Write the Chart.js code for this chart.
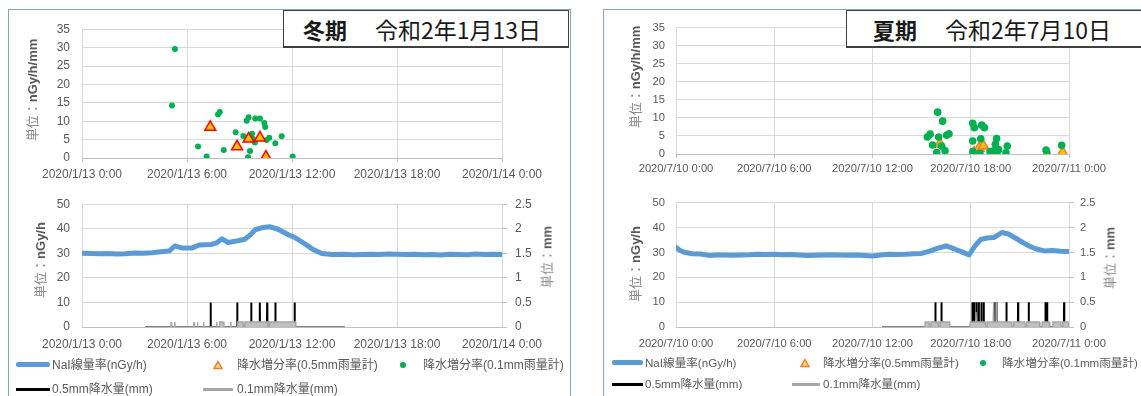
<!DOCTYPE html>
<html><head><meta charset="utf-8">
<script src="https://cdn.jsdelivr.net/npm/chart.js@4.4.1/dist/chart.umd.min.js"></script>
<style>
html,body{margin:0;padding:0;background:#fff;}
body{width:1141px;height:396px;position:relative;overflow:hidden;font-family:"Liberation Sans","Noto Sans CJK JP",sans-serif;}
.panel{position:absolute;border:1px solid #8AA3C7;box-sizing:border-box;}
canvas{position:absolute;}
.ttl{position:absolute;background:#fff;border:1px solid #404040;border-bottom-width:2px;box-sizing:border-box;z-index:5;font-family:"Noto Sans CJK JP",sans-serif;color:#1a1a1a;white-space:nowrap;}
.ttl span{position:absolute;top:50%;transform:translateY(-50%);line-height:1;}
.ttl .s{font-weight:bold;font-size:22px;}
.ttl .d{font-size:23px;}
.ax{position:absolute;transform:translate(-50%,-50%) rotate(-90deg);white-space:nowrap;color:#8c8c8c;font-size:13px;font-family:"Liberation Sans","Noto Sans CJK JP",sans-serif;line-height:1;}
.ax b{color:#595959;}
.lg{position:absolute;white-space:nowrap;color:#595959;transform:translateY(-50%);line-height:1;font-family:"Liberation Sans","Noto Sans CJK JP",sans-serif;}
.mk{position:absolute;}
</style>
</head><body>
<div class="panel" style="left:8px;top:9px;width:563px;height:400px;"></div>
<div class="panel" style="left:603px;top:9px;width:560px;height:400px;"></div>

<canvas id="wTop" width="570" height="178" style="left:0;top:10px;"></canvas>
<canvas id="wBot" width="570" height="211" style="left:0;top:185px;"></canvas>
<canvas id="sTop" width="538" height="178" style="left:603px;top:10px;"></canvas>
<canvas id="sBot" width="538" height="211" style="left:603px;top:185px;"></canvas>

<div class="ttl" style="left:283px;top:10px;width:286px;height:38px;"><span class="s" style="left:19px;">冬期</span><span class="d" style="left:91px;">令和2年1月13日</span></div>
<div class="ttl" style="left:846px;top:10px;width:300px;height:38px;"><span class="s" style="left:26px;">夏期</span><span class="d" style="left:98px;">令和2年7月10日</span></div>

<div class="ax" style="left:32px;top:90px;">単位：<b>nGy/h/mm</b></div>
<div class="ax" style="left:40px;top:260px;">単位：<b>nGy/h</b></div>
<div class="ax" style="left:547px;top:257px;">単位：<b>mm</b></div>
<div class="ax" style="left:635px;top:77px;">単位：<b>nGy/h/mm</b></div>
<div class="ax" style="left:635px;top:264px;">単位：<b>nGy/h</b></div>
<div class="ax" style="left:1110px;top:258px;">単位：<b>mm</b></div>

<!-- winter legend -->
<div class="mk" style="left:16px;top:362px;width:34px;height:5px;background:#5B9BD5;border-radius:2px;"></div>
<div class="lg" style="left:52px;top:365px;font-size:12px;">NaI線量率(nGy/h)</div>
<svg class="mk" style="left:213px;top:360px;" width="10" height="10"><polygon points="5,1.5 9,8.5 1,8.5" fill="#FFD966" stroke="#ED7D31" stroke-width="1.5"/></svg>
<div class="lg" style="left:237px;top:365px;font-size:12px;">降水増分率(0.5mm雨量計)</div>
<div class="mk" style="left:400px;top:362px;width:6px;height:6px;border-radius:3px;background:#00B050;"></div>
<div class="lg" style="left:423px;top:365px;font-size:12px;">降水増分率(0.1mm雨量計)</div>
<div class="mk" style="left:16px;top:388px;width:34px;height:3px;background:#000;"></div>
<div class="lg" style="left:52px;top:389px;font-size:12px;">0.5mm降水量(mm)</div>
<div class="mk" style="left:203px;top:388px;width:30px;height:3px;background:#A6A6A6;"></div>
<div class="lg" style="left:237px;top:389px;font-size:12px;">0.1mm降水量(mm)</div>

<!-- summer legend -->
<div class="mk" style="left:612px;top:360px;width:31px;height:5px;background:#5B9BD5;border-radius:2px;"></div>
<div class="lg" style="left:645px;top:363px;font-size:11.6px;">NaI線量率(nGy/h)</div>
<svg class="mk" style="left:800px;top:358px;" width="10" height="10"><polygon points="5,1.5 9,8.5 1,8.5" fill="#FFD966" stroke="#ED7D31" stroke-width="1.5"/></svg>
<div class="lg" style="left:823px;top:363px;font-size:11.6px;">降水増分率(0.5mm雨量計)</div>
<div class="mk" style="left:980px;top:360px;width:6px;height:6px;border-radius:3px;background:#00B050;"></div>
<div class="lg" style="left:1002px;top:363px;font-size:11.6px;">降水増分率(0.1mm雨量計)</div>
<div class="mk" style="left:612px;top:383px;width:31px;height:3px;background:#000;"></div>
<div class="lg" style="left:645px;top:384px;font-size:11.6px;">0.5mm降水量(mm)</div>
<div class="mk" style="left:792px;top:383px;width:28px;height:3px;background:#A6A6A6;"></div>
<div class="lg" style="left:823px;top:384px;font-size:11.6px;">0.1mm降水量(mm)</div>

<script>
// ================= DATA =================
const winterXLabels = ['2020/1/13 0:00','2020/1/13 6:00','2020/1/13 12:00','2020/1/13 18:00','2020/1/14 0:00'];
const summerXLabels = ['2020/7/10 0:00','2020/7/10 6:00','2020/7/10 12:00','2020/7/10 18:00','2020/7/11 0:00'];

// 降水増分率(0.1mm雨量計) — hours of day, nGy/h/mm
const winterDotT = [5.31,5.14,6.63,7.12,7.77,7.87,8.1,8.78,9.22,9.41,9.52,9.49,9.6,9.71,9.75,9.88,9.9,10.17,10.42,10.47,10.55,10.7,11.05,11.41,12.04];
const winterDotV = [29.6,14.3,3.1,0.4,11.8,12.5,2.2,7.0,6.0,10.1,11.1,0.2,1.9,6.6,5.3,4.2,10.7,10.7,9.5,8.4,4.9,5.5,4.0,5.9,0.4];
// 降水増分率(0.5mm雨量計)
const winterTriT = [7.33,8.86,9.52,10.17,10.51];
const winterTriV = [8.4,3.1,5.2,5.5,0.3];

const summerDotT = [15.35,15.52,15.67,15.92,15.98,16.04,16.22,16.28,16.43,16.53,16.67,18.12,18.22,18.12,18.13,18.56,18.61,18.67,18.83,19.18,19.4,19.45,19.5,19.58,19.6,19.7,20.15,20.23,22.6,22.65,23.55];
const summerDotV = [4.7,5.5,2.5,0.4,11.6,4.7,2.2,9.1,0.9,5.2,5.6,8.5,7.3,3.6,0.7,0.2,4.2,8.0,7.3,0.7,0.9,0.3,2.7,4.3,0.4,1.2,0.3,2.2,1.1,0.3,2.4];
const summerTriT = [16.12,18.2,18.5,18.77,23.61];
const summerTriV = [2.8,0.4,1.6,2.2,0.4];

// NaI線量率(nGy/h)
const winterNaiT = [0,0.5,1,1.5,2,2.5,3,3.5,4,4.5,5,5.3,5.7,6.3,6.7,7.4,7.7,8.0,8.35,8.9,9.3,9.6,9.9,10.3,10.75,11.2,11.8,12.2,12.75,13.15,13.7,14.3,15,15.5,16,16.5,17,17.5,18,18.5,19,19.5,20,20.5,21,21.5,22,22.5,23,23.5,24];
const winterNaiV = [30.0,29.9,29.8,29.9,29.7,29.8,30.1,30.0,30.2,30.6,31.0,33.0,32.2,32.2,33.4,33.6,34.3,35.9,34.4,35.1,35.7,37.4,39.6,40.5,40.8,39.8,37.6,36.3,33.8,31.8,29.9,29.5,29.6,29.4,29.5,29.6,29.5,29.7,29.6,29.5,29.6,29.4,29.5,29.3,29.6,29.5,29.4,29.7,29.5,29.6,29.5];
const summerNaiT = [0,0.25,0.5,1,1.5,2,2.5,3,3.5,4,4.5,5,5.5,6,6.5,7,7.5,8,8.5,9,9.5,10,10.5,11,11.5,12,12.5,13,13.5,14,14.5,15,15.5,16,16.5,17,17.5,17.9,18.25,18.6,19,19.4,19.9,20.3,20.8,21.3,21.6,22,22.5,23,23.5,24];
const summerNaiV = [32.0,30.8,30.1,29.5,29.4,28.8,29.0,29.0,28.9,29.0,29.1,29.3,29.2,29.3,29.1,29.2,29.0,28.8,28.9,29.0,29.1,29.0,28.9,29.0,28.8,28.6,29.0,29.3,29.2,29.3,29.5,29.6,30.5,31.7,32.6,31.4,30.1,29.0,32.5,35.2,35.8,36.0,38.0,37.4,35.5,33.5,32.5,31.4,30.6,30.8,30.5,30.4];

// 0.5mm降水量(mm): event times (h) and amounts; recording span
const winterR05T = [7.35,8.87,9.67,10.16,10.58,11.05,12.15];
const winterR05V = [0.5,0.5,0.5,0.5,0.5,0.5,0.5];
const winterR05Span = [3.6,15.0];
const summerR05T = [15.84,16.21,18.10,18.20,18.35,18.49,18.65,18.79,19.42,19.57,20.18,20.89,21.54,22.56,22.66,23.70];
const summerR05V = [0.5,0.5,0.5,0.5,0.5,0.5,0.5,0.5,0.5,0.5,0.5,0.5,0.5,0.5,0.5,0.5];
const summerR05Span = [12.6,24.0];

// 0.1mm降水量(mm): time series (h, mm)
const winterR01T = [3.6,5.08,5.1,5.12,5.28,5.3,5.32,6.38,6.4,6.42,6.58,6.6,6.62,6.93,6.95,6.97,7.68,7.7,7.72,7.85,7.87,8.1,8.12,8.48,8.5,8.52,8.88,8.9,9.2,9.22,9.3,9.32,10.6,10.62,10.7,10.72,12.2,12.22,15.0];
const winterR01V = [0,0,0.1,0,0,0.1,0,0,0.1,0,0,0.1,0,0,0.1,0,0,0.1,0,0,0.1,0.1,0,0,0.1,0,0,0.1,0.1,0,0,0.1,0.1,0,0,0.1,0.1,0,0];
const summerR01T = [12.6,15.2,15.22,15.45,15.47,15.55,15.57,16.0,16.02,16.1,16.12,16.7,16.72,17.95,17.97,18.3,18.32,18.34,18.9,18.92,19.0,19.02,19.38,19.4,19.42,19.55,19.57,19.59,20.5,20.52,20.6,20.62,21.3,21.32,21.4,21.42,22.2,22.22,22.35,22.37,22.8,22.82,23.0,23.02,23.5,23.52,23.6,23.62,23.95,23.97];
const summerR01V = [0,0,0.1,0.1,0,0,0.1,0.1,0,0,0.1,0.1,0,0,0.1,0.1,0.3,0.1,0.1,0,0,0.1,0.1,0.5,0.1,0.1,0.5,0.1,0.1,0,0,0.1,0.1,0,0,0.1,0.1,0,0,0.1,0.1,0,0,0.1,0.1,0,0,0.1,0.1,0];

// ================= CHARTS =================
const FAM = "'Liberation Sans', Arial, sans-serif";
Chart.defaults.font.family = FAM;
Chart.defaults.color = '#595959';
const GRID = '#D9D9D9';
const AXIS = '#BFBFBF';

function pts(T, V){ return T.map((t,i)=>({x:t,y:V[i]})); }
function spikes(T, V, span){
  const out=[{x:span[0],y:0}];
  T.forEach((t,i)=>{ out.push({x:t-0.012,y:0},{x:t,y:V[i]},{x:t+0.012,y:0}); });
  out.push({x:span[1],y:0});
  return out;
}
function xScale(labels, o){
  return {type:'linear',min:0,max:24,
    ticks:{stepSize:6,autoSkip:false,maxRotation:0,padding:o.xPad,font:{size:o.fs,family:FAM},color:'#595959',
      callback:v=>labels[Math.round(v/6)]},
    grid:{color:GRID,lineWidth:1,drawTicks:o.xTicks,tickLength:4,tickColor:AXIS},
    border:{display:true,color:AXIS},
    afterFit:s=>{s.height=o.xH;}};
}
function topChart(id, labels, dT, dV, tT, tV, o){
  const dots = {label:'降水増分率(0.1mm雨量計)', data:pts(dT,dV), pointStyle:'circle', pointRadius:o.dotR,
    backgroundColor:'#00B050', borderColor:'#00B050', borderWidth:0, showLine:false};
  const tris = {label:'降水増分率(0.5mm雨量計)', data:pts(tT,tV), pointStyle:'triangle', pointRadius:o.triR,
    backgroundColor:'#FFC000', borderColor:o.triBorder, borderWidth:1.5, showLine:false};
  return new Chart(document.getElementById(id), {
    type:'scatter',
    data:{datasets: o.triOnTop ? [tris, dots] : [dots, tris]},
    options:{responsive:false, animation:false, devicePixelRatio:1,
      layout:{padding:{left:0,right:o.padR,top:13,bottom:0}},
      plugins:{legend:{display:false}, tooltip:{enabled:false}},
      scales:{
        x: xScale(labels,{xPad:o.xPad,fs:o.fs,xTicks:true,xH:o.xH}),
        y:{min:0,max:35,ticks:{stepSize:5,padding:o.yPad,font:{size:o.fs,family:FAM},color:'#595959'},
           grid:{color:GRID,drawTicks:false},border:{display:false},afterFit:s=>{s.width=o.yW;}}
      }}
  });
}
function botChart(id, labels, nT, nV, r05, r01, o){
  return new Chart(document.getElementById(id), {
    type:'line',
    data:{datasets:[
      {label:'0.1mm降水量(mm)', data:r01, yAxisID:'y1', borderColor:'#A6A6A6', backgroundColor:'#BFBFBF', fill:'origin', borderWidth:1.5, pointRadius:0, tension:0},
      {label:'0.5mm降水量(mm)', data:r05, yAxisID:'y1', borderColor:'#000000', borderWidth:2, pointRadius:0, tension:0},
      {label:'NaI線量率(nGy/h)', data:pts(nT,nV), yAxisID:'y', borderColor:'#5B9BD5', borderWidth:5, pointRadius:0, tension:0, borderJoinStyle:'round', borderCapStyle:'round'}
    ]},
    options:{responsive:false, animation:false, devicePixelRatio:1,
      layout:{padding:{left:0,right:0,top:6,bottom:39}},
      plugins:{legend:{display:false}, tooltip:{enabled:false}, filler:{propagate:false}},
      scales:{
        x: xScale(labels,{xPad:10,fs:o.fs,xTicks:false,xH:30}),
        y:{position:'left',min:0,max:50,ticks:{stepSize:10,padding:o.yPad,font:{size:o.fs,family:FAM},color:'#595959'},
           grid:{color:GRID,drawTicks:false},border:{display:false},afterFit:s=>{s.width=o.yW;}},
        y1:{position:'right',min:0,max:2.5,ticks:{stepSize:0.5,padding:o.y1Pad,font:{size:o.fs,family:FAM},color:'#595959',
             callback:v=>String(Math.round(v*10)/10)},
           grid:{drawOnChartArea:false,drawTicks:true,tickLength:5,tickColor:AXIS},border:{display:false},
           afterFit:s=>{s.width=o.y1W;}}
      }}
  });
}

topChart('wTop', winterXLabels, winterDotT, winterDotV, winterTriT, winterTriV,
  {padR:68, yW:82, yPad:12, xPad:5, xH:30, fs:12, dotR:3, triR:6.3, triBorder:'#FF0000', triOnTop:true});
topChart('sTop', summerXLabels, summerDotT, summerDotV, summerTriT, summerTriV,
  {padR:72, yW:73, yPad:11, xPad:4, xH:34, fs:11.2, dotR:3.8, triR:6, triBorder:'#ED7D31', triOnTop:false});
botChart('wBot', winterXLabels, winterNaiT, winterNaiV,
  spikes(winterR05T, winterR05V, winterR05Span), pts(winterR01T, winterR01V),
  {fs:12, yW:82, yPad:12, y1W:68, y1Pad:8});
botChart('sBot', summerXLabels, summerNaiT, summerNaiV,
  spikes(summerR05T, summerR05V, summerR05Span), pts(summerR01T, summerR01V),
  {fs:11.2, yW:73, yPad:11, y1W:72, y1Pad:6});
</script>
</body></html>
